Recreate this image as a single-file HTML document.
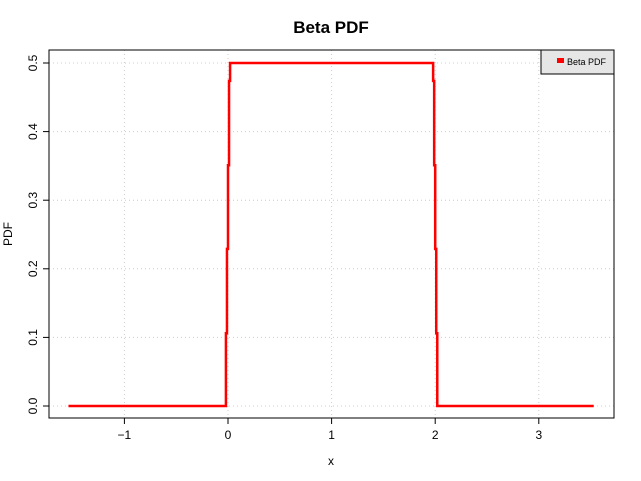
<!DOCTYPE html>
<html><head><meta charset="utf-8"><style>body{margin:0;background:#fff}svg{display:block;font-family:"Liberation Sans",sans-serif}</style></head>
<body>
<svg id="c" width="641" height="481"></svg>
<script>
const xTicks=[-1,0,1,2,3];
const yTicks=[0,0.1,0.2,0.3,0.4,0.5];
const yTickLabels=["0.0","0.1","0.2","0.3","0.4","0.5"];
const xs=[-1.54,-0.02,-0.01,0,0.01,0.02,1.98,1.99,2,2.01,2.02,3.53];
const ys=[0,0.106,0.229,0.351,0.474,0.5,0.474,0.351,0.229,0.106,0,0];
const X=v=>228+v*103.6, Y=v=>406-v*686;
const s=document.getElementById('c');const NS='http://www.w3.org/2000/svg';
function mk(t,a,p){const e=document.createElementNS(NS,t);for(const k in a)e.setAttribute(k,a[k]);(p||s).appendChild(e);return e;}
const L=49,R=614,T=50,B=418;
xTicks.forEach(v=>{const g=mk('line',{x1:X(v),x2:X(v),y1:T,y2:B,stroke:'#ccc','stroke-dasharray':'1,3'});


const t=mk('line',{x1:X(v),x2:X(v),y1:B,y2:B+6,stroke:'#000'});


const l=mk('text',{x:X(v),y:B+21,'text-anchor':'middle','font-size':12});l.textContent=v<0?'\u2212'+(-v):v;

});
yTicks.forEach((v,i)=>{const g=mk('line',{x1:L,x2:R,y1:Y(v),y2:Y(v),stroke:'#ccc','stroke-dasharray':'1,3'});


const t=mk('line',{x1:L-6,x2:L,y1:Y(v),y2:Y(v),stroke:'#000'});


const l=mk('text',{x:L-12,y:Y(v),'text-anchor':'middle','font-size':12,transform:`rotate(-90 ${L-12} ${Y(v)})`});l.textContent=yTickLabels[i];

});
let d='M'+X(xs[0])+','+Y(ys[0]);
for(let i=1;i<xs.length;i++){d+=' H'+X(xs[i])+' V'+Y(ys[i]);}
const p=mk('path',{d:d,fill:'none',stroke:'#f00','stroke-width':2.5});


</script>
<svg style="position:absolute;left:0;top:0" width="641" height="481">
<rect x="49" y="50" width="565" height="368" fill="none" stroke="#000"/>
<text x="331" y="33" text-anchor="middle" font-size="17" font-weight="bold" font-family="Liberation Sans,sans-serif">Beta PDF</text>
<text x="331" y="465" text-anchor="middle" font-size="12" font-family="Liberation Sans,sans-serif">x</text>
<text x="0" y="0" transform="translate(12 234) rotate(-90)" text-anchor="middle" font-size="12" font-family="Liberation Sans,sans-serif">PDF</text>
<g>
<rect x="541" y="50" width="73" height="24" fill="#e6e6e6" stroke="#000"/>
<rect x="557" y="58" width="7" height="5" fill="#f00"/>
<text x="567" y="65" font-size="9" font-family="Liberation Sans,sans-serif">Beta PDF</text>
</g>
</svg>
</body></html>
